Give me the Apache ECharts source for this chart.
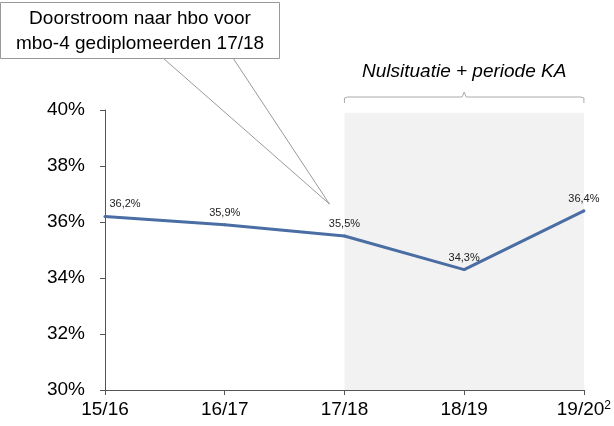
<!DOCTYPE html>
<html><head><meta charset="utf-8">
<script src="https://cdn.jsdelivr.net/npm/echarts@6/dist/echarts.min.js"></script>
<style>html,body{margin:0;padding:0;background:#fff}#c{width:614px;height:426px}</style>
</head><body><div id="c"></div>
<script>
var categories = ['15/16', '16/17', '17/18', '18/19', '19/20'];
var values = [36.2, 35.9, 35.5, 34.3, 36.4];
var yTicks = [30, 32, 34, 36, 38, 40];
var calloutText = 'Doorstroom naar hbo voor\nmbo-4 gediplomeerden 17/18';
var periodTitle = 'Nulsituatie + periode KA';
var periodStart = '17/18', periodEnd = '19/20';

var chart = echarts.init(document.getElementById('c'), null, {renderer: 'canvas'});
var font = 'Liberation Sans, Arial, sans-serif';
var option = {
  animation: false,
  grid: {left: 105, right: 29, top: 110, bottom: 36, containLabel: false},
  xAxis: {
    type: 'category', data: categories, boundaryGap: false,
    axisLine: {lineStyle: {color: '#555', width: 1}},
    axisTick: {show: true, length: 5, interval: 0, lineStyle: {color: '#555'}},
    axisLabel: {
      interval: 0,
      color: '#000', fontSize: 19, fontFamily: font, margin: 10,
      formatter: function (v) { return v === '19/20' ? '{a|19/20}{s|2}' : '{a|' + v + '}'; },
      rich: {a: {fontSize: 19, fontFamily: font, color: '#000'}, s: {fontSize: 12, fontFamily: font, color: '#000', verticalAlign: 'top', padding: [0, 0, 8, 0]}}
    }
  },
  yAxis: {
    type: 'value', min: yTicks[0], max: yTicks[yTicks.length - 1], interval: 2,
    axisLine: {show: true, lineStyle: {color: '#555', width: 1}},
    axisTick: {show: true, length: 5, lineStyle: {color: '#555'}},
    splitLine: {show: false},
    axisLabel: {color: '#000', fontSize: 19, fontFamily: font, margin: 20, formatter: '{value}%'}
  },
  series: [{
    type: 'line', data: values.map(function (v, i) {
      return i === 0 ? {value: v, label: {offset: [20, 0]}} : v;
    }),
    symbol: 'circle', symbolSize: 3, showSymbol: true,
    itemStyle: {color: '#4a6ea4'},
    lineStyle: {color: '#4a6ea4', width: 3},
    label: {
      show: true, position: 'top', distance: 5, color: '#222', fontSize: 11, fontFamily: font,
      formatter: function (p) { return String(p.value).replace('.', ',') + '%'; }
    },
    markArea: {
      silent: true,
      itemStyle: {color: '#f2f2f2'},
      data: [[{coord: [periodStart, 39.9]}, {coord: [periodEnd, 30]}]]
    },
    z: 3
  }]
};
chart.setOption(option);

var pS = chart.convertToPixel({gridIndex: 0}, [periodStart, 40]);
var pE = chart.convertToPixel({gridIndex: 0}, [periodEnd, 40]);
var pTip = chart.convertToPixel({gridIndex: 0}, [periodStart, values[2]]);
var xm = (pS[0] + pE[0]) / 2;
var by = 97;
chart.setOption({
  graphic: [
    {type: 'polyline', shape: {points: [[pS[0], by + 6], [pS[0], by + 1], [pS[0] + 3, by], [xm - 2, by], [xm, by - 5], [xm + 2, by], [pE[0] - 3, by], [pE[0], by + 1], [pE[0], by + 6]]},
      style: {stroke: '#aaa', lineWidth: 1, fill: null}, z: 10},
    {type: 'text', x: xm, y: 72, style: {text: periodTitle, font: 'italic 19px ' + font, fill: '#000', textAlign: 'center', textVerticalAlign: 'middle'}, z: 10},
    {type: 'polyline', shape: {points: [[163, 58], [pTip[0] - 15, pTip[1] - 32], [233, 58]]},
      style: {stroke: '#999', lineWidth: 1, fill: null}, z: 10},
    {type: 'rect', shape: {x: 0.5, y: 2.5, width: 279, height: 56}, style: {fill: '#fff', stroke: '#999', lineWidth: 1}, z: 11},
    {type: 'text', x: 140, y: 31, style: {text: calloutText, font: '19px ' + font, fill: '#000', textAlign: 'center', textVerticalAlign: 'middle', lineHeight: 25}, z: 12}
  ]
});
</script>
</body></html>
